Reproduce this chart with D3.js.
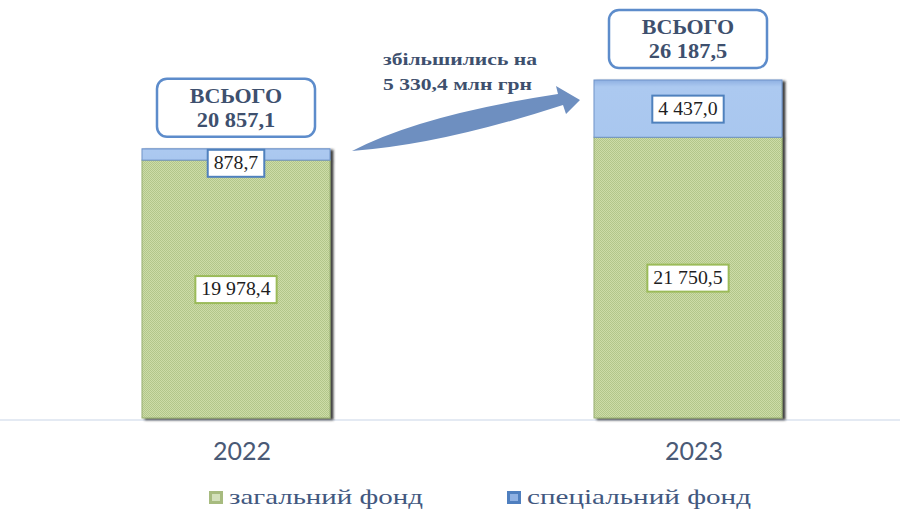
<!DOCTYPE html>
<html>
<head>
  <meta charset="utf8" />
  <style>
    body {
      margin: 0;
      background: #fff;
    }
    text.val {
      font-family: "Times New Roman", "Liberation Serif", serif;
      font-size: 18px;
      fill: #1e1e1e;
    }
    text.total, text.note {
      font-family: "Times New Roman", "Liberation Serif", serif;
      font-weight: bold;
      fill: #3e506e;
    }
    text.legend {
      font-family: "Times New Roman", "Liberation Serif", serif;
      font-size: 21px;
      fill: #42587f;
    }
    .year text {
      font-family: Lato, sans-serif;
      font-size: 25px;
      fill: #4a5a76;
    }
  </style>
</head>
<body>
  <script src="https://d3js.org/d3.v7.min.js"></script>
  <script>
    var years = ["2022", "2023"],
        general = [19978.4, 21750.5],
        special = [878.7, 4437.0],
        totals = [20857.1, 26187.5],
        seriesNames = ["загальний фонд", "спеціальний фонд"],
        totalTitle = "ВСЬОГО",
        changeNote = ["збільшились на", "5 330,4 млн грн"];

    var width = 900,
        height = 509;

    var fmt = d3.formatLocale({decimal: ",", thousands: " ", grouping: [3], currency: ["", ""]}).format(",.1f");

    var rows = years.map((y, i) => ({year: y, general: general[i], special: special[i], total: totals[i]}));
    var series = d3.stack().keys(["general", "special"])(rows);

    var x = d3.scaleBand().domain(years).range([10, 914]).paddingInner(0.584).paddingOuter(0.292);
    var y = d3.scaleLinear().domain([0, 28000]).range([418, 56.6]);

    var svg = d3.select("body").append("svg").attr("width", width).attr("height", height);
    var defs = svg.append("defs");

    // checkered green fill
    var pat = defs.append("pattern").attr("id", "greenDots")
        .attr("patternUnits", "userSpaceOnUse").attr("width", 2).attr("height", 2);
    pat.append("rect").attr("width", 2).attr("height", 2).attr("fill", "#cddca8");
    pat.append("rect").attr("width", 1).attr("height", 1).attr("fill", "#b2c68a");
    pat.append("rect").attr("x", 1).attr("y", 1).attr("width", 1).attr("height", 1).attr("fill", "#b2c68a");

    var blueGrad = defs.append("linearGradient").attr("id", "blueGrad").attr("x1", 0).attr("y1", 0).attr("x2", 0).attr("y2", 1);
    blueGrad.append("stop").attr("offset", "0%").attr("stop-color", "#8eb0e2");
    blueGrad.append("stop").attr("offset", "12%").attr("stop-color", "#acc9f0");
    blueGrad.append("stop").attr("offset", "100%").attr("stop-color", "#a9c7ef");

    var shadow = defs.append("filter").attr("id", "shadow").attr("x", "-10%").attr("y", "-10%").attr("width", "130%").attr("height", "130%");
    shadow.append("feDropShadow").attr("dx", 3).attr("dy", 1.5).attr("stdDeviation", 1.3)
        .attr("flood-color", "#222").attr("flood-opacity", 0.85);

    var fills = {general: "url(#greenDots)", special: "url(#blueGrad)"};
    var edges = {general: "#98ae72", special: "#6f93c8"};
    var labelStroke = {general: "#9bbb59", special: "#4f81bd"};

    // baseline
    svg.append("line").attr("x1", 0).attr("x2", width).attr("y1", y(0) + 2).attr("y2", y(0) + 2)
        .attr("stroke", "#dbe3ef").attr("stroke-width", 1.5);

    // bars
    var barG = svg.append("g").attr("filter", "url(#shadow)");
    series.forEach(s => {
      barG.selectAll(".bar-" + s.key)
        .data(s)
        .join("rect")
          .attr("class", "bar-" + s.key)
          .attr("x", d => x(d.data.year))
          .attr("y", d => y(d[1]))
          .attr("width", x.bandwidth())
          .attr("height", d => y(d[0]) - y(d[1]))
          .attr("fill", fills[s.key])
          .attr("stroke", edges[s.key])
          .attr("stroke-width", 1);
    });

    function stretch(sel, k) {
      sel.each(function() {
        var w = this.getComputedTextLength();
        d3.select(this).attr("textLength", w * k).attr("lengthAdjust", "spacingAndGlyphs");
      });
    }

    // value labels
    series.forEach(s => {
      s.forEach(d => {
        var cx = x(d.data.year) + x.bandwidth() / 2;
        var mid = (y(d[0]) + y(d[1])) / 2;
        var cy = s.key === "special" ? Math.max(mid, y(d[1]) + 14) : mid;
        var g = svg.append("g");
        var rect = g.append("rect");
        var t = g.append("text").attr("class", "val")
            .attr("x", cx).attr("y", cy + 6).attr("text-anchor", "middle")
            .text(fmt(d[1] - d[0]));
        stretch(t, 1.1);
        var w = t.node().getComputedTextLength() + 12;
        rect.attr("x", cx - w / 2).attr("y", cy - 13).attr("width", w).attr("height", 27)
            .attr("fill", "#fff").attr("stroke", labelStroke[s.key]).attr("stroke-width", 2);
      });
    });

    // total boxes
    rows.forEach(d => {
      var cx = x(d.year) + x.bandwidth() / 2;
      var bottom = y(d.total) - 12;
      var g = svg.append("g");
      g.append("rect").attr("x", cx - 79).attr("y", bottom - 58).attr("width", 158).attr("height", 58)
          .attr("rx", 10).attr("fill", "#fff").attr("stroke", "#5d8ccb").attr("stroke-width", 2.5);
      var t1 = g.append("text").attr("class", "total").attr("font-size", 20)
          .attr("x", cx).attr("y", bottom - 34).attr("text-anchor", "middle").text(totalTitle);
      var t2 = g.append("text").attr("class", "total").attr("font-size", 20)
          .attr("x", cx).attr("y", bottom - 10).attr("text-anchor", "middle").text(fmt(d.total));
      stretch(t1, 1.1);
      stretch(t2, 1.12);
    });

    // change arrow
    svg.append("path")
        .attr("d", "M352,151 Q420,115 558,94 L556,86 L580,100 L566,114 L563,105 Q440,145 352,151 Z")
        .attr("fill", "#6e8fc0");

    var notes = svg.selectAll(".note")
      .data(changeNote)
      .join("text")
        .attr("class", "note")
        .attr("font-size", 17)
        .attr("x", 383)
        .attr("y", (d, i) => 65 + i * 25)
        .text(d => d);
    notes.attr("textLength", (d, i) => i === 0 ? 154 : 149).attr("lengthAdjust", "spacingAndGlyphs");

    // year axis
    svg.append("g").attr("class", "year")
        .attr("transform", "translate(6," + (y(0) + 2) + ")")
        .call(d3.axisBottom(x).tickSize(0).tickPadding(22))
        .call(g => g.select(".domain").remove());

    // legend
    var legendX = [209, 507];
    var legendFill = [["#a7bb7f", "#d3e0bb"], ["#4f7fbf", "#8fb1e3"]];
    var lg = svg.selectAll(".lg")
      .data(seriesNames)
      .join("g")
        .attr("class", "lg")
        .attr("transform", (d, i) => "translate(" + legendX[i] + ",491)");
    lg.append("rect").attr("width", 14).attr("height", 13).attr("fill", (d, i) => legendFill[i][0]);
    lg.append("rect").attr("x", 3).attr("y", 3).attr("width", 8).attr("height", 7).attr("fill", (d, i) => legendFill[i][1]);
    lg.append("text").attr("class", "legend").attr("x", 20).attr("y", 13).text(d => d)
        .attr("textLength", (d, i) => i === 0 ? 194 : 224).attr("lengthAdjust", "spacingAndGlyphs");
  </script>
</body>
</html>
